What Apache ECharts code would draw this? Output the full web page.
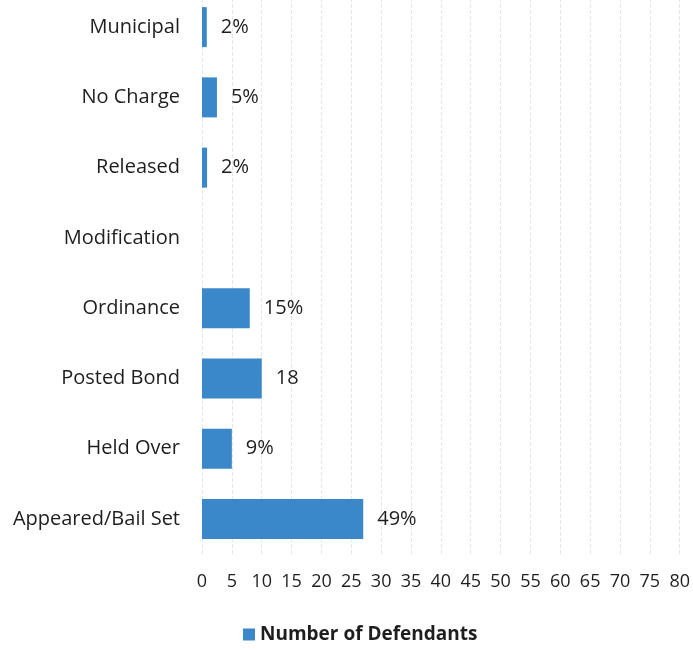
<!DOCTYPE html>
<html>
<head>
<meta charset="utf-8">
<script src="https://cdn.jsdelivr.net/npm/echarts@6/dist/echarts.min.js"></script>
<style>
html,body{margin:0;padding:0;background:#fff;overflow:hidden;}
#chart{width:693px;height:658px;position:relative;top:-8px;}
</style>
</head>
<body>
<div id="chart"></div>
<script>
// Categories listed bottom to top
var categories = ['Appeared/Bail Set', 'Held Over', 'Posted Bond', 'Ordinance', 'Modification', 'Released', 'No Charge', 'Municipal'];
var defendants = [27, 5, 10, 8, 0, 0.85, 2.5, 0.8];
var barLabels = ['49%', '9%', '18', '15%', '', '2%', '5%', '2%'];
var seriesName = 'Number of Defendants';
var axisMin = 0, axisMax = 80, axisStep = 5;

var FONT = 'Open Sans';
var chart = echarts.init(document.getElementById('chart'));
chart.setOption({
  animation: false,
  backgroundColor: '#fff',
  grid: { left: 202, right: 13, top: 0, bottom: 96, containLabel: false },
  legend: {
    data: [seriesName],
    bottom: 1,
    left: 238,
    icon: 'rect',
    itemWidth: 12,
    itemHeight: 12,
    itemGap: 6,
    textStyle: { fontFamily: FONT, fontSize: 19, fontWeight: 'bold', color: '#1e1e1e' }
  },
  xAxis: {
    type: 'value',
    min: axisMin, max: axisMax, interval: axisStep,
    axisLine: { show: false },
    axisTick: { show: false },
    axisLabel: { fontFamily: FONT, fontSize: 18, color: '#1e1e1e', margin: 19 },
    splitLine: { show: true, lineStyle: { color: '#e6e6e6', type: 'dashed', width: 1 } }
  },
  yAxis: {
    type: 'category',
    data: categories,
    axisLine: { show: false },
    axisTick: { show: false },
    axisLabel: { fontFamily: FONT, fontSize: 20, color: '#1e1e1e', margin: 22 }
  },
  series: [{
    name: seriesName,
    type: 'bar',
    data: defendants,
    barWidth: 40,
    itemStyle: { color: '#3a87c9' },
    label: {
      show: true,
      position: 'right',
      distance: 14,
      fontFamily: FONT,
      fontSize: 20,
      color: '#1e1e1e',
      formatter: function (p) { return barLabels[p.dataIndex]; }
    }
  }]
});
</script>
</body>
</html>
